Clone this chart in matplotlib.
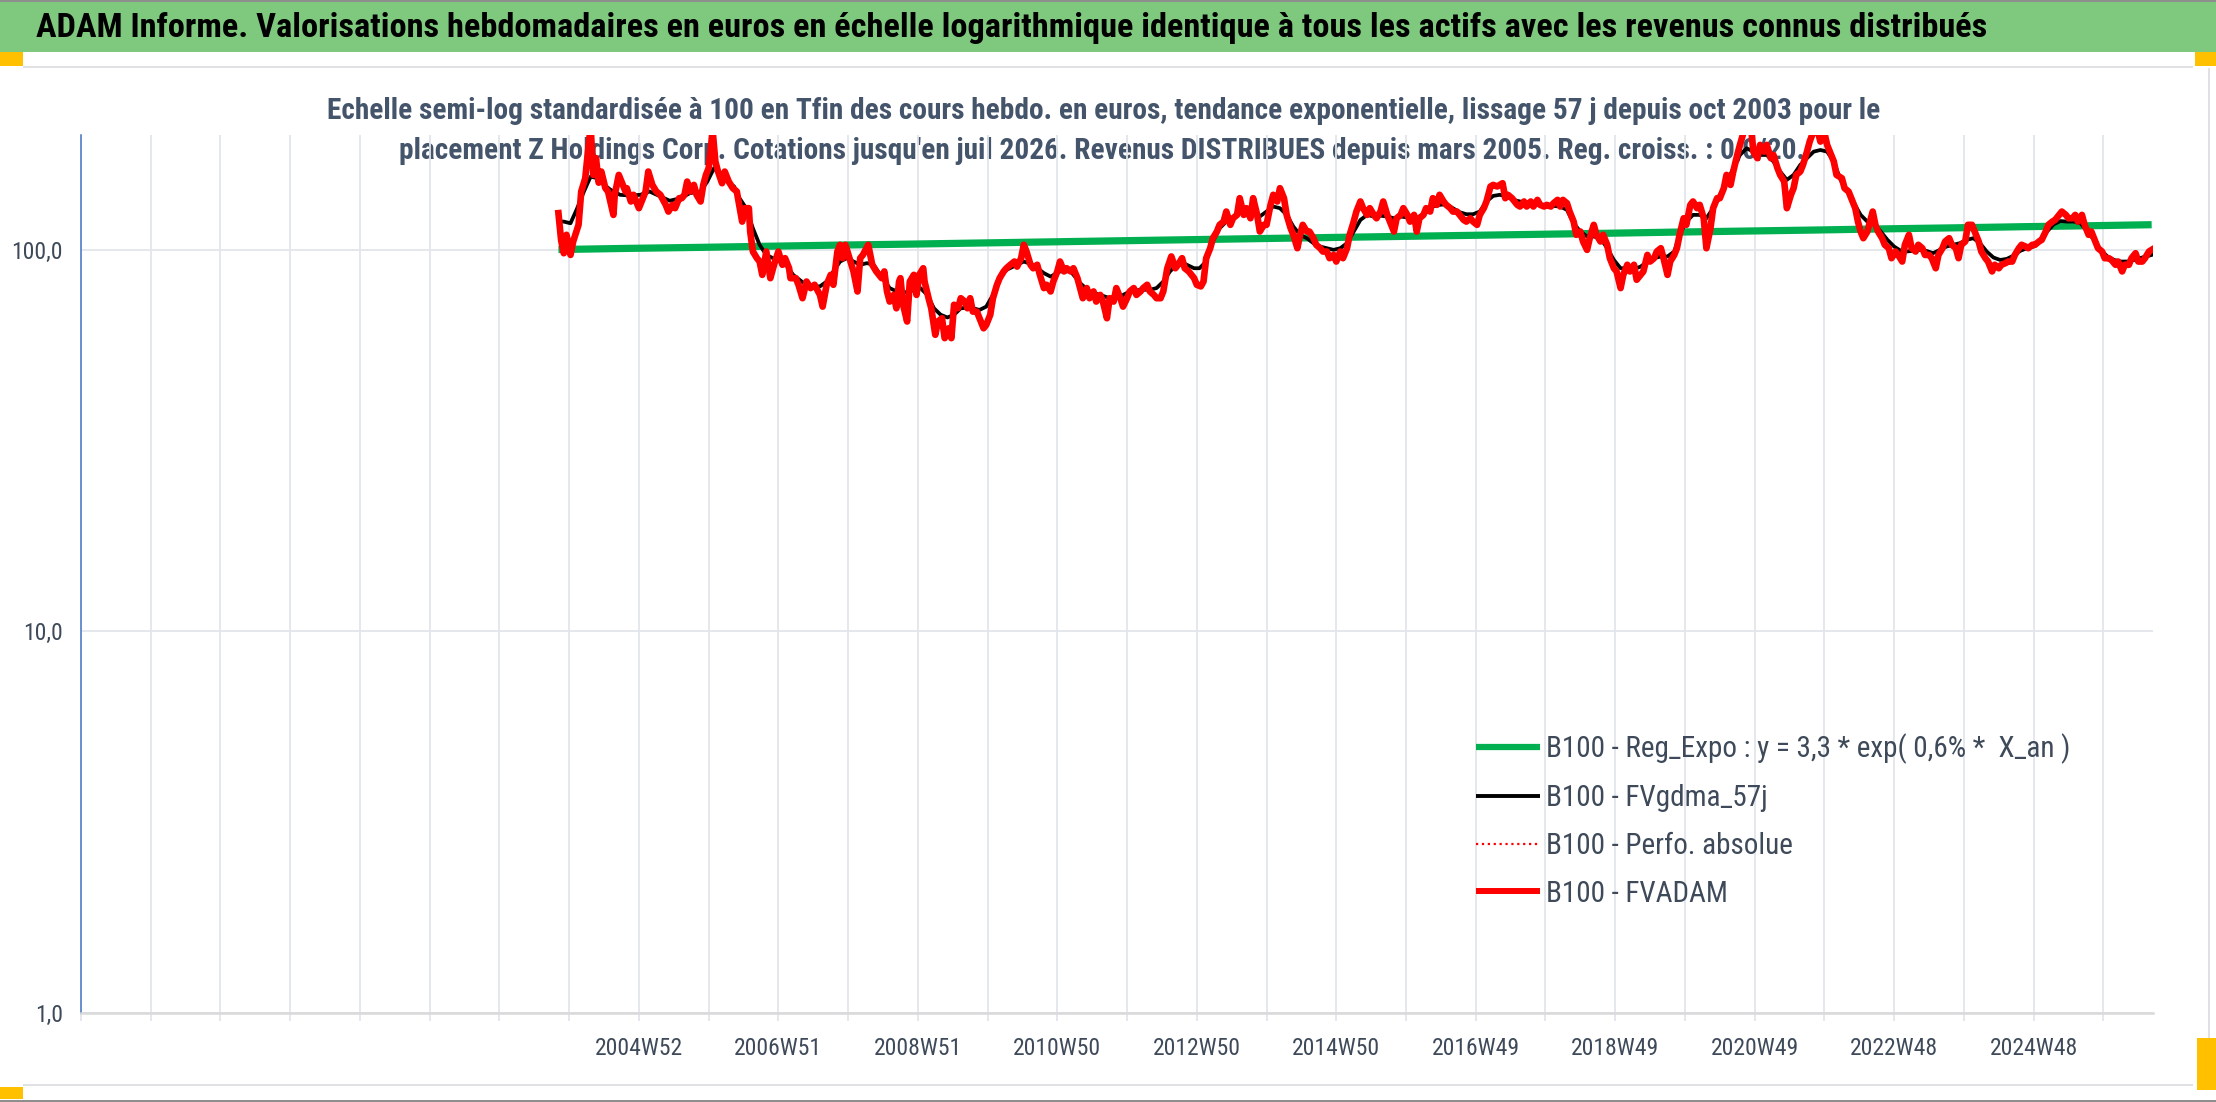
import matplotlib
matplotlib.use('Agg')
import matplotlib.pyplot as plt
from matplotlib import font_manager
from matplotlib.patches import Rectangle
from matplotlib.lines import Line2D
from matplotlib.ticker import NullLocator

# ---------------- data (weekly category index, value base 100) ----------------
title = ("ADAM Informe. Valorisations hebdomadaires en euros en échelle logarithmique "
         "identique à tous les actifs avec les revenus connus distribués")
subtitle_1 = ("Echelle semi-log standardisée à 100 en Tfin des cours hebdo. en euros, tendance "
              "exponentielle, lissage 57 j depuis oct 2003 pour le")
subtitle_2 = ("placement Z Holdings Corp. Cotations jusqu'en juil 2026. Revenus DISTRIBUES "
              "depuis mars 2005. Reg. croiss. : 0,0/20.")

n_categories = 1545
tick_step = 52
x_label_weeks = [416, 520, 624, 728, 832, 936, 1040, 1144, 1248, 1352, 1456]
x_labels = ["2004W52", "2006W51", "2008W51", "2010W50", "2012W50", "2014W50",
            "2016W49", "2018W49", "2020W49", "2022W48", "2024W48"]
y_ticks = [1, 10, 100]
y_tick_labels = ["1,0", "10,0", "100,0"]

legend_labels = ["B100 - Reg_Expo : y = 3,3 * exp( 0,6% *  X_an )",
                 "B100 - FVgdma_57j",
                 "B100 - Perfo. absolue",
                 "B100 - FVADAM"]

green_weeks = [356, 408, 460, 512, 564, 616, 668, 720, 772, 824, 876, 928, 980, 1032,
               1084, 1136, 1188, 1240, 1292, 1344, 1396, 1448, 1500, 1544]
green_values = [100.2, 100.9, 101.5, 102.2, 102.9, 103.5, 104.2, 104.9, 105.6, 106.3,
                107.0, 107.7, 108.4, 109.1, 109.8, 110.5, 111.3, 112.0, 112.7, 113.5,
                114.2, 115.0, 115.7, 116.4]

red_weeks = [
    356, 358, 360, 362, 365, 367, 371, 373, 376, 377, 380, 382, 384, 386, 388, 391, 393, 397, 398,
    401, 404, 406, 407, 410, 412, 416, 418, 421, 423, 426, 429, 432, 436, 438, 441, 443, 446, 448,
    450, 452, 454, 457, 459, 462, 464, 466, 468, 471, 473, 475, 478, 480, 483, 486, 489, 493, 495,
    498, 499, 501, 504, 506, 508, 511, 514, 517, 520, 523, 525, 528, 529, 533, 535, 538, 541, 544,
    547, 551, 553, 556, 559, 561, 564, 566, 568, 570, 573, 576, 579, 581, 583, 587, 590, 593,
    595, 597, 599, 601, 603, 606, 608, 610, 611, 613, 616, 618, 621, 623, 625, 628, 629, 632, 634,
    637, 639, 642, 644, 647, 649, 651, 654, 656, 659, 661, 663, 665, 668, 670, 673, 675, 678, 680,
    683, 685, 688, 690, 693, 696, 698, 701, 703, 705, 708, 710, 713, 715, 718, 720, 723, 725, 728,
    730, 733, 735, 738, 740, 743, 745, 747, 750, 752, 755, 757, 760, 762, 765, 767, 770, 772, 775,
    777, 780, 782, 785, 787, 790, 792, 795, 797, 800, 802, 805, 807, 810, 813, 816, 818, 821, 823,
    826, 830, 832,
    835, 837, 839, 842, 844, 847, 849, 852, 854, 857, 859, 862, 864, 867, 869, 872, 874, 877, 879,
    882, 884, 887, 889, 892, 894, 897, 899, 902, 904, 907, 909, 911, 914, 916, 919, 921, 924, 926,
    929, 931, 934, 936, 939, 941, 944, 946, 949, 951, 954, 956, 959, 961, 964, 966, 969, 971, 974,
    976, 979, 981, 984, 986, 989, 991, 994, 996, 998, 1001, 1003, 1006, 1008, 1011, 1013, 1016,
    1018, 1021, 1023, 1026, 1028, 1031, 1033, 1036, 1038, 1041, 1043, 1046, 1048, 1051, 1053, 1056,
    1058, 1060, 1062, 1064, 1067, 1071,
    1073, 1076, 1078, 1081, 1083, 1086, 1088, 1091, 1093, 1096, 1098, 1101, 1103, 1105, 1108, 1110,
    1113, 1115, 1118, 1120, 1123, 1125, 1128, 1130, 1133, 1135, 1138, 1140, 1143, 1145, 1148, 1150,
    1153, 1155, 1158, 1160, 1163, 1165, 1168, 1170, 1173, 1175, 1178, 1180, 1183, 1185, 1188, 1190,
    1192, 1195, 1197, 1200, 1202, 1205, 1207, 1210, 1212, 1215, 1217, 1220, 1222, 1225, 1227, 1230,
    1232, 1235, 1237, 1240, 1242, 1245, 1247, 1250, 1252, 1255, 1257, 1260, 1262, 1265, 1267, 1270,
    1272, 1275, 1277, 1279, 1282, 1284, 1287, 1289, 1292, 1294, 1297, 1299, 1302, 1304, 1307, 1309,
    1313, 1315, 1318, 1320, 1323, 1325, 1327, 1329, 1332, 1334, 1336, 1338, 1340, 1343, 1345, 1348,
    1350, 1353, 1355, 1358, 1360, 1363, 1365, 1368, 1370, 1373, 1375, 1378, 1380, 1383, 1385, 1388,
    1390, 1393, 1395, 1398, 1400, 1402, 1405, 1407, 1410, 1412, 1415, 1417, 1420, 1422, 1425, 1427,
    1430, 1432, 1435, 1437, 1440, 1442, 1445, 1447, 1450, 1452, 1455, 1457, 1460, 1462, 1465, 1467,
    1470, 1472, 1475, 1477, 1480, 1482, 1485, 1487, 1489, 1492, 1494, 1497, 1499, 1502, 1504, 1507,
    1509, 1512, 1514, 1517, 1519, 1522, 1524, 1527, 1529, 1532, 1534, 1537, 1539, 1542, 1544]
red_values = [
    124.8, 106.0, 98.0, 109.5, 97.0, 105.2, 116.3, 142.2, 154.1, 167.0, 210.0, 157.2, 173.9, 150.0,
    160.4, 145.1, 142.2, 123.5, 139.4,
    157.2, 148.0, 142.2, 145.1, 133.9, 139.4, 128.6, 133.9, 142.2, 160.4, 148.0, 142.2, 139.4, 131.2,
    126.0, 131.2, 128.6, 136.6, 136.6,
    139.4, 151.0, 142.2, 148.0, 139.4, 133.9, 148.0, 157.2, 163.7, 205.0, 170.4, 160.4, 149.5, 160.4,
    151.0, 145.1, 142.2, 118.6, 128.6,
    128.6, 111.7, 99.0, 95.1, 93.2, 86.0, 99.0, 84.3, 92.0, 99.0, 91.4, 95.1, 89.5, 84.3, 84.3, 81.0,
    74.7, 82.6, 79.4,
    81.0, 76.2, 71.0, 81.0, 86.0, 81.0, 99.0, 103.1, 95.1, 103.1, 95.1, 87.8, 77.8, 95.1, 97.0, 103.1,
    91.4, 87.8,
    86.0, 84.3, 87.8, 77.8, 73.2, 76.2, 70.3, 82.6, 84.3, 71.8, 64.9, 82.6, 86.0, 76.2, 86.0, 89.5,
    82.6, 74.7, 70.3,
    59.9, 64.9, 66.2, 58.7, 62.3, 58.7, 71.8, 70.3, 74.7, 73.2, 70.3, 74.7, 68.9, 68.9, 66.2, 62.3,
    63.6, 67.6, 74.7,
    81.0, 84.3, 87.8, 89.5, 91.4, 93.2, 90.4, 95.1, 103.1, 99.0, 91.4, 89.5, 91.4, 86.0, 79.4, 81.0,
    77.8, 82.6, 87.8,
    93.2, 87.8, 89.5, 87.8, 89.5, 84.3, 79.4, 74.7, 79.4, 74.7, 77.8, 73.2, 76.2, 73.2, 66.2, 74.7,
    73.2, 79.4, 74.7,
    71.0, 74.7, 77.8, 79.4, 76.2, 77.8, 79.4, 81.0, 77.8, 76.2, 74.7, 74.7, 77.8, 89.5, 96.1, 89.5,
    91.4, 95.1, 89.5,
    87.8, 84.3, 81.0,
    80.2, 82.6, 95.1, 101.0, 107.3, 111.7, 116.3, 118.6, 126.0, 116.3, 121.0, 123.5, 136.6, 123.5,
    128.6, 121.0, 136.6, 123.5, 111.7,
    116.3, 116.3, 131.2, 139.4, 133.9, 145.1, 136.6, 123.5, 113.9, 109.5, 101.0, 109.5, 116.3, 111.7,
    111.7, 107.3, 103.1, 101.0, 99.0,
    99.0, 95.1, 97.0, 93.2, 99.0, 95.1, 101.0, 109.5, 118.6, 126.0, 133.9, 128.6, 123.5, 128.6, 123.5,
    121.0, 126.0, 133.9, 123.5,
    118.6, 111.7, 121.0, 123.5, 128.6, 123.5, 118.6, 123.5, 111.7, 121.0, 123.5, 128.6, 126.0, 136.6,
    131.2, 139.4, 133.9,
    131.2, 128.6, 126.0, 126.0, 123.5, 119.8, 118.6, 121.0, 118.6, 116.3, 123.5, 128.6, 133.9, 146.6,
    148.0, 146.6,
    148.0, 149.5, 136.6, 139.4, 136.6, 131.2,
    129.9, 133.9, 129.9, 133.9, 129.9, 135.2, 131.2, 129.9, 131.2, 129.9, 132.5, 135.2, 129.9, 135.2,
    132.5, 126.0,
    118.6, 109.5, 111.7, 105.2, 100.0, 107.3, 116.3, 109.5, 105.2, 109.5, 103.1, 95.1, 89.5, 87.8,
    79.4, 86.0,
    91.4, 87.8, 91.4, 83.5, 86.0, 87.8, 97.0, 93.2, 95.1, 99.0, 101.0, 95.1, 86.0, 93.2, 97.0, 101.0,
    109.5, 121.0, 116.3, 131.2, 133.9, 128.6, 131.2, 121.0, 101.0, 113.9, 128.6, 136.6, 136.6, 145.1,
    157.2, 148.0,
    160.4, 177.3, 188.4, 205.0, 210.0, 215.0, 180.9, 173.9, 188.4, 180.9, 188.4, 173.9, 177.3, 163.7,
    157.2, 151.0,
    128.6, 139.4, 145.1, 157.2, 160.4, 167.0, 180.9, 192.2, 205.0, 212.0, 192.2, 210.0, 188.4, 180.9,
    170.4, 157.2,
    154.1, 145.1, 142.2, 136.6, 128.6, 118.6, 111.7, 107.3, 111.7, 118.6, 126.0, 116.3, 111.7, 107.3,
    103.1, 101.0,
    95.1, 99.0, 97.0, 93.2, 103.1, 109.5, 101.0, 99.0, 103.1, 101.0, 97.0, 97.0, 95.1, 89.5, 97.0, 101.0,
    105.2, 107.3, 103.1, 101.0, 95.1, 103.1, 105.2, 116.3, 116.3, 111.7, 105.2, 99.0, 95.1, 93.2, 87.8,
    91.4,
    89.5, 91.4, 92.3, 93.2, 93.2, 97.0, 101.0, 103.1, 102.0, 101.0, 103.1, 103.1, 105.2, 106.2, 111.7,
    116.3,
    118.6, 119.8, 123.5, 126.0, 123.5, 121.0, 121.0, 123.5, 118.6, 123.5, 116.3, 109.5, 111.7, 105.2,
    101.0, 99.0,
    95.1, 95.1, 94.1, 91.4, 93.2, 87.8, 91.4, 91.4, 95.1, 98.0, 93.2, 93.2, 95.1, 99.0, 100.0]

black_weeks = [
    358, 360, 365, 370, 375, 380, 385, 390, 395, 402, 409, 417, 424, 432, 439, 447, 454, 462, 467,
    472, 477, 482, 487, 491, 496, 501, 506, 511, 516, 521, 526, 531, 539, 546, 551, 556, 561, 566,
    571, 576, 581, 586, 591, 596, 603, 611, 618, 626, 631, 636, 641, 646, 651, 656, 663, 670, 675,
    680, 685, 690, 698, 703, 710, 718, 723, 730, 738, 745, 752, 760, 767, 775, 782, 790, 797, 802,
    807, 812, 817, 822, 830, 834, 839, 844, 849, 854, 859, 864, 869, 874, 879, 884, 889, 894, 899,
    904, 909, 914, 919, 924, 929, 934, 939, 944, 949, 954, 959, 964, 969, 974, 979, 984, 989, 994,
    998, 1003, 1008, 1013, 1018, 1023, 1028, 1033, 1038, 1043, 1048, 1053, 1058, 1063, 1068, 1073,
    1083, 1093, 1103, 1108, 1113, 1118, 1123, 1128, 1133, 1138, 1143, 1148, 1153, 1158, 1163, 1168,
    1173, 1178, 1183, 1188, 1192, 1197, 1202, 1207, 1212, 1217, 1222, 1227, 1232, 1237, 1242, 1247,
    1252, 1257, 1262, 1267, 1272, 1277, 1282, 1287, 1292, 1297, 1302, 1307, 1312, 1317, 1322, 1327,
    1332, 1337, 1342, 1347, 1352, 1357, 1361, 1366, 1371, 1376, 1381, 1386, 1391, 1396, 1401, 1406,
    1411, 1416, 1421, 1426, 1431, 1436, 1441, 1446, 1451, 1456, 1461, 1466, 1471, 1476, 1481, 1486,
    1491, 1496, 1501, 1506, 1511, 1516, 1521, 1526, 1531, 1535, 1540, 1544]
black_values = [
    118.6, 118.6, 117.4, 128.6, 142.2, 155.6, 154.1, 148.0, 143.6, 139.4, 138.8, 139.4, 142.2, 138.0,
    134.5, 136.6, 140.8, 142.2, 151.0,
    163.7, 157.2, 151.0, 146.6, 136.6, 128.6, 113.9, 103.1, 97.0, 95.1, 93.2, 91.4, 86.0, 81.8, 80.2,
    80.2, 82.6, 87.8, 93.2,
    95.1, 93.2, 91.4, 92.3, 91.4, 86.0, 79.4, 77.0, 77.8, 79.4, 76.2, 70.3, 67.6, 66.5, 67.6, 70.3,
    70.6, 69.6, 71.0,
    76.2, 84.3, 88.6, 91.4, 93.2, 91.4, 86.9, 85.1, 87.8, 87.8, 81.8, 77.8, 76.2, 74.7, 75.5, 77.8,
    78.6, 78.6, 79.4,
    82.6, 87.8, 91.4, 92.3, 89.5, 89.5, 93.2, 105.2, 113.9, 118.6, 121.0, 126.0, 123.5, 124.8, 122.3,
    126.0, 129.9, 128.6, 123.5,
    115.1, 109.5, 107.3, 104.1, 102.0, 101.0, 100.0, 101.0, 104.1, 111.7, 119.8, 123.5, 122.3, 122.9,
    122.3, 121.0, 122.3, 121.6, 121.0,
    122.3, 125.5, 129.9, 131.2, 131.7, 128.6, 125.5, 124.0, 124.0, 126.0, 133.9, 138.5, 139.4, 138.0,
    135.2, 133.9,
    131.7, 130.7, 129.9, 127.3, 117.4, 111.7, 108.4, 108.4, 107.3, 101.0, 94.1, 89.5, 89.5, 89.1,
    90.4, 93.2,
    95.1, 96.1, 96.1, 99.0, 109.5, 118.6, 123.5, 123.5, 121.0, 128.6, 139.4, 149.5, 163.7, 177.3,
    184.6, 180.9,
    177.3, 177.3, 170.4, 160.4, 152.6, 157.2, 167.0, 173.9, 180.9, 182.7, 180.9, 170.4, 152.6, 142.2,
    132.5, 123.5,
    118.6, 117.4, 111.7, 106.2, 102.0, 99.4, 99.0, 99.4, 100.0, 99.4, 98.0, 100.0, 102.0, 103.1,
    104.1, 106.2,
    107.3, 104.1, 99.0, 95.5, 94.1, 94.7, 96.6, 99.4, 101.0, 102.0, 105.2, 111.7, 116.7, 119.0,
    118.6, 118.6,
    117.4, 111.7, 106.2, 100.0, 96.1, 94.1, 93.2, 93.2, 94.1, 95.1, 96.1, 97.0]

# ---------------- styling ----------------
names = {f.name for f in font_manager.fontManager.ttflist}
FONT = 'DejaVu Sans'
for cand in ['Liberation Sans Narrow', 'Roboto Condensed', 'Open Sans Condensed', 'Liberation Sans']:
    if cand in names:
        FONT = cand
        break
plt.rcParams['font.family'] = [FONT, 'DejaVu Sans']

W, H = 2216, 1102
fig = plt.figure(figsize=(W / 100, H / 100), dpi=100, facecolor='white')


def rect(x0, y0, x1, y1, color, z=0.1):
    fig.patches.append(Rectangle((x0 / W, 1 - y1 / H), (x1 - x0) / W, (y1 - y0) / H,
                                 transform=fig.transFigure, facecolor=color,
                                 edgecolor='none', zorder=z))


# frame decorations
rect(0, 0, W, 1.5, '#8E8E8E')
rect(0, 1.5, W, 52, '#7FC97F')
rect(23, 66, 2193, 68, '#DFE1E5')
rect(23, 1084, 2193, 1086, '#DFE1E5')
rect(2208, 68, 2210, 1038, '#DFE1E5')
rect(0, 52, 23, 66, '#FFC000')
rect(2195, 52, W, 66, '#FFC000')
rect(0, 1087, 23, 1099, '#FFC000')
rect(2197, 1038, W, 1090, '#FFC000')
rect(0, 1099.5, W, H, '#8E8E8E')

TXT = '#44546A'
t_title = fig.text(36 / W, 1 - 28 / H, title, fontsize=21, fontweight='bold',
                   color='black', ha='left', va='center', zorder=0.5)
t_sub1 = fig.text(1104 / W, 1 - 111 / H, subtitle_1, fontsize=18, fontweight='bold',
                  color=TXT, ha='center', va='center', zorder=0.5)
t_sub2 = fig.text(1102 / W, 1 - 151 / H, subtitle_2, fontsize=18, fontweight='bold',
                  color=TXT, ha='center', va='center', zorder=0.5)

fig.canvas.draw()
renderer = fig.canvas.get_renderer()


def fit(t, target):
    w = t.get_window_extent(renderer).width
    t.set_fontsize(t.get_fontsize() * target / w)


fit(t_title, 1952)
fit(t_sub1, 1555)
t_sub2.set_fontsize(t_sub1.get_fontsize())

ax = fig.add_axes([81 / W, 1 - 1013 / H, (2153 - 81) / W, (1013 - 135) / H], zorder=1)
ax.set_facecolor('none')

ax.plot(green_weeks, green_values, color='#00B050', lw=5.2, solid_capstyle='butt', zorder=2)
ax.plot(black_weeks, black_values, color='black', lw=2.7, zorder=3)
ax.plot(red_weeks, red_values, color='#FF0000', lw=1.5, ls=':', zorder=4)
ax.plot(red_weeks, red_values, color='#FF0000', lw=4.8, zorder=5, solid_joinstyle='round')

ax.set_yscale('log')
ax.set_ylim(1, 200)
ax.set_xlim(0, n_categories)
ax.set_yticks(y_ticks)
ax.set_yticklabels(y_tick_labels)
ax.yaxis.set_minor_locator(NullLocator())

grid_weeks = list(range(0, n_categories, tick_step))
ax.set_xticks(grid_weeks)
lab_map = dict(zip(x_label_weeks, x_labels))
ax.set_xticklabels([lab_map.get(w, '') for w in grid_weeks])

ax.grid(True, which='major', color='#E2E5EA', lw=1.3, zorder=0)
ax.set_axisbelow(True)
for s in ['top', 'right']:
    ax.spines[s].set_visible(False)
ax.spines['left'].set_color('#4472C4')
ax.spines['left'].set_linewidth(1.1)
ax.spines['bottom'].set_color('#D9D9D9')
ax.spines['bottom'].set_linewidth(1.8)

TICK = '#3E4A59'
ax.tick_params(axis='x', direction='out', length=6, width=1.3, color='#E2E5EA',
               labelsize=17, labelcolor=TICK, pad=11)
ax.tick_params(axis='y', length=0, labelsize=17, labelcolor=TICK, pad=13)

handles = [Line2D([], [], color='#00B050', lw=4.5, solid_capstyle='butt'),
           Line2D([], [], color='black', lw=2.8, solid_capstyle='butt'),
           Line2D([], [], color='#FF0000', lw=1.6, ls=':'),
           Line2D([], [], color='#FF0000', lw=4.3, solid_capstyle='butt')]
leg_fs = 21
leg = ax.legend(handles, legend_labels, loc='upper left',
                bbox_to_anchor=(1476 / W, 1 - 733.5 / H), bbox_transform=fig.transFigure,
                frameon=False, fontsize=leg_fs, handlelength=2.19, handletextpad=0.2,
                labelspacing=0.68, borderpad=0, borderaxespad=0, labelcolor=TICK)

fig.savefig('out.png', dpi=100, facecolor='white')
